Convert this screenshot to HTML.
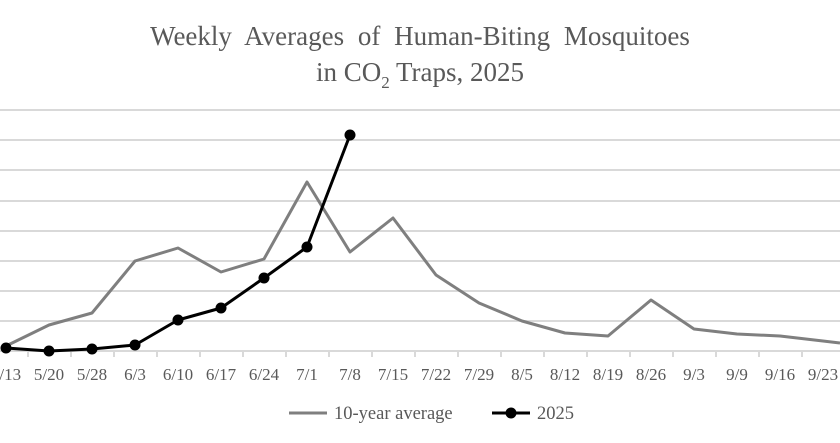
<!DOCTYPE html>
<html><head><meta charset="utf-8"><style>
body{margin:0;background:#fff;}
svg{display:block;font-family:"Liberation Serif",serif;}
</style></head><body>
<svg width="840" height="443" xmlns="http://www.w3.org/2000/svg">
<rect width="840" height="443" fill="#fff"/>
<text x="420" y="45" text-anchor="middle" font-size="27" fill="#595959" word-spacing="7">Weekly Averages of Human-Biting Mosquitoes</text>
<text x="420" y="81" text-anchor="middle" font-size="27" fill="#595959">in CO<tspan font-size="17" dy="7">2</tspan><tspan dy="-7"> Traps, 2025</tspan></text>
<g stroke="#d9d9d9" stroke-width="2">
<line x1="0" x2="840" y1="110" y2="110"/><line x1="0" x2="840" y1="140" y2="140"/>
<line x1="0" x2="840" y1="170" y2="170"/><line x1="0" x2="840" y1="201" y2="201"/>
<line x1="0" x2="840" y1="231" y2="231"/><line x1="0" x2="840" y1="261" y2="261"/>
<line x1="0" x2="840" y1="291" y2="291"/><line x1="0" x2="840" y1="321" y2="321"/>
<line x1="0" x2="840" y1="351" y2="351"/>
<line x1="28" x2="28" y1="351" y2="357"/><line x1="71" x2="71" y1="351" y2="357"/><line x1="114" x2="114" y1="351" y2="357"/><line x1="157" x2="157" y1="351" y2="357"/><line x1="200" x2="200" y1="351" y2="357"/><line x1="243" x2="243" y1="351" y2="357"/><line x1="286" x2="286" y1="351" y2="357"/><line x1="329" x2="329" y1="351" y2="357"/><line x1="372" x2="372" y1="351" y2="357"/><line x1="415" x2="415" y1="351" y2="357"/><line x1="458" x2="458" y1="351" y2="357"/><line x1="501" x2="501" y1="351" y2="357"/><line x1="544" x2="544" y1="351" y2="357"/><line x1="587" x2="587" y1="351" y2="357"/><line x1="630" x2="630" y1="351" y2="357"/><line x1="673" x2="673" y1="351" y2="357"/><line x1="716" x2="716" y1="351" y2="357"/><line x1="759" x2="759" y1="351" y2="357"/><line x1="802" x2="802" y1="351" y2="357"/>
</g>
<g font-size="17" fill="#595959" text-anchor="middle">
<text x="6" y="380">5/13</text><text x="49" y="380">5/20</text><text x="92" y="380">5/28</text><text x="135" y="380">6/3</text><text x="178" y="380">6/10</text><text x="221" y="380">6/17</text><text x="264" y="380">6/24</text><text x="307" y="380">7/1</text><text x="350" y="380">7/8</text><text x="393" y="380">7/15</text><text x="436" y="380">7/22</text><text x="479" y="380">7/29</text><text x="522" y="380">8/5</text><text x="565" y="380">8/12</text><text x="608" y="380">8/19</text><text x="651" y="380">8/26</text><text x="694" y="380">9/3</text><text x="737" y="380">9/9</text><text x="780" y="380">9/16</text><text x="823" y="380">9/23</text>
</g>
<polyline fill="none" stroke="#7f7f7f" stroke-width="3" stroke-linejoin="round" points="6,346 49,325 92,313 135,261 178,248 221,272 264,259 307,182 350,252 393,218 436,275 479,303 522,321 565,333 608,336 651,300 694,329 737,334 780,336 823,341 840,343"/>
<polyline fill="none" stroke="#000" stroke-width="3" stroke-linejoin="round" points="6,348 49,351 92,349 135,345 178,320 221,308 264,278 307,247 350,135"/>
<g fill="#000">
<circle cx="6" cy="348" r="5.5"/><circle cx="49" cy="351" r="5.5"/><circle cx="92" cy="349" r="5.5"/><circle cx="135" cy="345" r="5.5"/><circle cx="178" cy="320" r="5.5"/><circle cx="221" cy="308" r="5.5"/><circle cx="264" cy="278" r="5.5"/><circle cx="307" cy="247" r="5.5"/><circle cx="350" cy="135" r="5.5"/>
</g>
<line x1="289" x2="327" y1="413" y2="413" stroke="#7f7f7f" stroke-width="3"/>
<text x="334" y="419" font-size="18.5" fill="#595959">10-year average</text>
<line x1="492" x2="530" y1="413" y2="413" stroke="#000" stroke-width="3"/>
<circle cx="511" cy="413" r="5.5" fill="#000"/>
<text x="537" y="419" font-size="18.5" fill="#595959">2025</text>
</svg>
</body></html>
